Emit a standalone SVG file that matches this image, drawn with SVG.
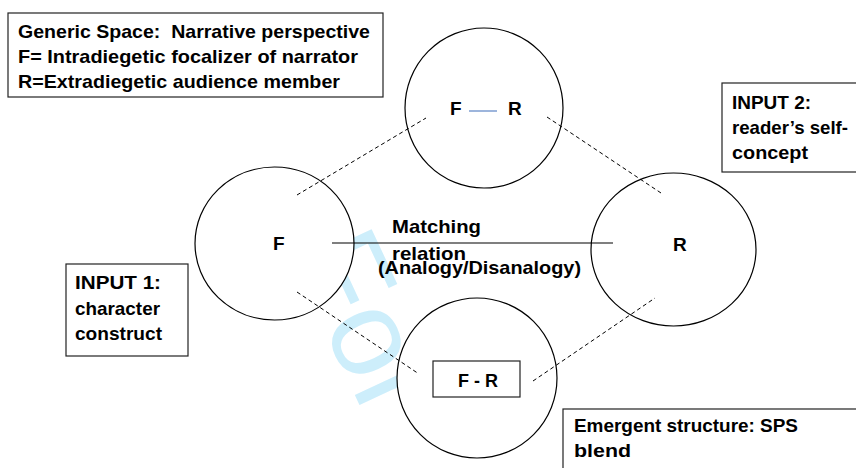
<svg xmlns="http://www.w3.org/2000/svg" width="856" height="468" viewBox="0 0 856 468">
<style>
.t{font-family:"Liberation Sans",Arial,sans-serif;font-weight:bold;font-size:19px;fill:#000;white-space:pre}
.c{fill:#fff;stroke:#000;stroke-width:1.2}
.b{fill:#fff;stroke:#222;stroke-width:1.2}
.d{stroke:#000;stroke-width:1;stroke-dasharray:4 3;fill:none}
.wm{font-family:"Liberation Sans",Arial,sans-serif;font-size:124px;fill:#cdeefb}
</style>
<rect width="856" height="468" fill="#fff"/>
<text class="wm" transform="translate(290,256) rotate(65)">For</text>
<g id="generic-space">
<rect class="b" x="8" y="13" width="375" height="84"/>
<text class="t" x="18" y="38" textLength="352" lengthAdjust="spacingAndGlyphs">Generic Space:  Narrative perspective</text>
<text class="t" x="18" y="63" textLength="340" lengthAdjust="spacingAndGlyphs">F= Intradiegetic focalizer of narrator</text>
<text class="t" x="18" y="88" textLength="322" lengthAdjust="spacingAndGlyphs">R=Extradiegetic audience member</text>
</g>
<g id="input2-label">
<rect class="b" x="722" y="83" width="150" height="89"/>
<text class="t" x="732" y="109" textLength="79" lengthAdjust="spacingAndGlyphs">INPUT 2:</text>
<text class="t" x="732" y="134" textLength="116" lengthAdjust="spacingAndGlyphs">reader’s self-</text>
<text class="t" x="732" y="159" textLength="76" lengthAdjust="spacingAndGlyphs">concept</text>
</g>
<g id="input1-label">
<rect class="b" x="66" y="264" width="122" height="92"/>
<text class="t" x="75" y="289" textLength="86" lengthAdjust="spacingAndGlyphs">INPUT 1:</text>
<text class="t" x="75" y="315" textLength="85" lengthAdjust="spacingAndGlyphs">character</text>
<text class="t" x="75" y="340" textLength="87" lengthAdjust="spacingAndGlyphs">construct</text>
</g>
<g id="emergent-label">
<rect class="b" x="563" y="409" width="320" height="80"/>
<text class="t" x="574" y="432" textLength="224" lengthAdjust="spacingAndGlyphs">Emergent structure: SPS</text>
<text class="t" x="574" y="457" textLength="57" lengthAdjust="spacingAndGlyphs">blend</text>
</g>
<g id="generic-circle">
<ellipse class="c" cx="484" cy="108" rx="79" ry="80"/>
<text class="t" x="450" y="115">F</text>
<line x1="469" y1="111" x2="497" y2="111" stroke="#5b84c4" stroke-width="1.2"/>
<text class="t" x="508" y="115">R</text>
</g>
<g id="input1-circle">
<ellipse class="c" cx="274.5" cy="243.5" rx="79.5" ry="76.5"/>
<text class="t" x="273" y="250">F</text>
</g>
<g id="input2-circle">
<ellipse class="c" cx="673.5" cy="249.5" rx="82.5" ry="76.5"/>
<text class="t" x="673" y="251">R</text>
</g>
<g id="blend-circle">
<ellipse class="c" cx="477" cy="378" rx="80" ry="80"/>
<rect class="b" x="433" y="361" width="87" height="36"/>
<text class="t" x="458" y="387" textLength="40" lengthAdjust="spacingAndGlyphs">F - R</text>
</g>
<g id="connectors">
<line x1="332" y1="243" x2="613" y2="243" stroke="#000" stroke-width="1.2"/>
<line class="d" x1="297" y1="195" x2="426" y2="118"/>
<line class="d" x1="547" y1="117" x2="661" y2="193"/>
<line class="d" x1="297" y1="292" x2="419" y2="374"/>
<line class="d" x1="533" y1="381" x2="655" y2="298"/>
</g>
<g id="matching-label">
<text class="t" x="392" y="233" textLength="89" lengthAdjust="spacingAndGlyphs">Matching</text>
<text class="t" x="392" y="260" textLength="74" lengthAdjust="spacingAndGlyphs">relation</text>
<text class="t" x="378" y="274" textLength="203" lengthAdjust="spacingAndGlyphs">(Analogy/Disanalogy)</text>
</g>
</svg>
